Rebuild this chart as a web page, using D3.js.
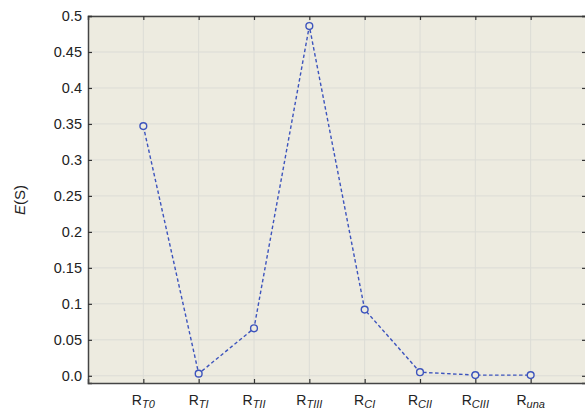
<!DOCTYPE html>
<html>
<head>
<meta charset="utf-8">
<script src="https://cdn.jsdelivr.net/npm/d3@7"></script>
<style>
  body { margin: 0; background: #fff; }
  text { font-family: "Liberation Sans", Arial, sans-serif; }
</style>
</head>
<body>
<div id="chart"></div>
<script>
// Categories: main letter + italic subscript
const categories = ["T0", "TI", "TII", "TIII", "CI", "CII", "CIII", "una"];
const values = [0.347, 0.003, 0.066, 0.486, 0.092, 0.005, 0.001, 0.001];
const yTicks = [0, 0.05, 0.1, 0.15, 0.2, 0.25, 0.3, 0.35, 0.4, 0.45, 0.5];

const margin = {top: 16, right: -1, bottom: 31, left: 88},
    width = 585 - margin.left - margin.right,
    height = 414 - margin.top - margin.bottom;

const svg = d3.select("#chart")
  .append("svg")
    .attr("width", 585)
    .attr("height", 414)
  .append("g")
    .attr("transform", `translate(${margin.left}, ${margin.top})`);

const xScale = d3.scaleLinear()
  .domain([0, categories.length + 1])
  .range([0, width]);

const yScale = d3.scaleLinear()
  .domain([-0.01, 0.5])
  .range([height, 0]);

// plot background
svg.append("rect")
  .attr("width", width)
  .attr("height", height)
  .attr("fill", "#edebe0");

// grid lines
svg.append("g")
  .selectAll("line")
  .data(yTicks)
  .join("line")
    .attr("x1", 0).attr("x2", width)
    .attr("y1", d => yScale(d)).attr("y2", d => yScale(d))
    .attr("stroke", "#dcdcd6")
    .attr("stroke-width", 1);

svg.append("g")
  .selectAll("line")
  .data(categories)
  .join("line")
    .attr("x1", (d, i) => xScale(i + 1)).attr("x2", (d, i) => xScale(i + 1))
    .attr("y1", 0).attr("y2", height)
    .attr("stroke", "#dcdcd6")
    .attr("stroke-width", 1);

// axes with inward ticks
const tickIdx = d3.range(1, categories.length + 1);

svg.append("g")
  .attr("transform", `translate(0, ${height})`)
  .call(d3.axisBottom(xScale).tickValues(tickIdx).tickSize(-4).tickFormat(""));

svg.append("g")
  .call(d3.axisTop(xScale).tickValues(tickIdx).tickSize(-4).tickFormat(""));

const yAxis = svg.append("g")
  .call(d3.axisLeft(yScale).tickValues(yTicks).tickSize(-4).tickPadding(6)
    .tickFormat(d => d === 0 ? "0.0" : d3.format("")(d)));

svg.append("g")
  .attr("transform", `translate(${width}, 0)`)
  .call(d3.axisRight(yScale).tickValues(yTicks).tickSize(-4).tickFormat(""));

svg.selectAll(".domain").attr("stroke", "#444").attr("stroke-width", 1.5);
svg.selectAll(".tick line").attr("stroke", "#333").attr("stroke-width", 1.2);

yAxis.selectAll("text")
  .style("font-size", "14.5px")
  .attr("fill", "#222");

// x labels with subscripts
const xl = svg.append("g")
  .selectAll("text")
  .data(categories)
  .join("text")
    .attr("x", (d, i) => xScale(i + 1))
    .attr("y", height + 22)
    .attr("text-anchor", "middle")
    .attr("fill", "#222")
    .style("font-size", "14px");
xl.append("tspan").text("R");
xl.append("tspan")
  .attr("dy", 3)
  .style("font-size", "11px")
  .style("font-style", "italic")
  .text(d => d);

// y label
svg.append("text")
  .attr("transform", `translate(${25 - margin.left}, ${200 - margin.top}) rotate(-90)`)
  .attr("text-anchor", "middle")
  .attr("fill", "#222")
  .style("font-size", "15px")
  .html('<tspan font-style="italic">E</tspan>(S)');

// dashed line and markers
const pts = values.map((v, i) => [i + 1, v]);

svg.append("path")
  .datum(pts)
  .attr("d", d3.line().x(d => xScale(d[0])).y(d => yScale(d[1])))
  .attr("fill", "none")
  .attr("stroke", "#3d54bd")
  .attr("stroke-width", 1.4)
  .attr("stroke-dasharray", "3.5,2.5");

svg.append("g")
  .selectAll("circle")
  .data(pts)
  .join("circle")
    .attr("cx", d => xScale(d[0]))
    .attr("cy", d => yScale(d[1]))
    .attr("r", 3.4)
    .attr("fill", "#edebe0")
    .attr("stroke", "#3d54bd")
    .attr("stroke-width", 1.4);
</script>
</body>
</html>
